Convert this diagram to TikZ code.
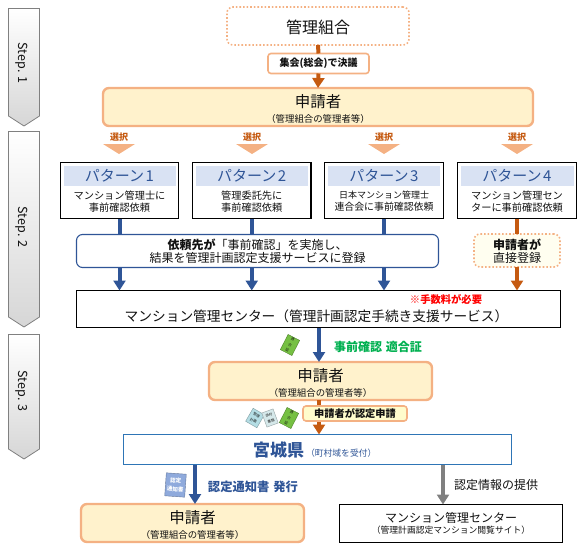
\documentclass[tikz,border=0pt]{standalone}
\usepackage{fontspec}
\setmainfont{Noto Sans CJK JP}
\usetikzlibrary{arrows.meta}
\definecolor{orange1}{HTML}{F4B183}
\definecolor{orangeD}{HTML}{C55A11}
\definecolor{cream}{HTML}{FFF2CC}
\definecolor{blueD}{HTML}{2F5597}
\definecolor{blueH}{HTML}{D9E2F3}
\definecolor{blueL}{HTML}{2E75B6}
\definecolor{txt}{HTML}{111111}
\definecolor{okgreen}{HTML}{00B050}
\definecolor{docgreen}{HTML}{76C043}
\definecolor{doccyan}{HTML}{B4DDE4}
\definecolor{doccyanL}{HTML}{D5E8EA}
\definecolor{docblue}{HTML}{8FAADC}
\newcommand{\fs}[1]{\fontsize{#1}{#1}\selectfont}
\tikzset{
  base/.style={inner sep=0pt,outer sep=0pt,align=center,text=txt},
  appbox/.style={base,draw=orange1,line width=2.4pt,fill=cream,rounded corners=6pt},
  patbox/.style={base,draw=black,line width=1.1pt,fill=white},
  pathead/.style={base,fill=blueH,text=blueD},
  blackbox/.style={base,draw=black,line width=1.1pt,fill=white},
  dotbox/.style={base,draw=orange1,line width=1.6pt,dotted,rounded corners=6pt},
  blue arrow/.style={draw=blueD,line width=4pt,-{Triangle[width=12pt,length=10pt]}},
  orange arrow/.style={draw=orangeD,line width=4pt,-{Triangle[width=12pt,length=10pt]}},
  gray arrow/.style={draw=gray,line width=4pt,-{Triangle[width=12pt,length=10pt]}},
  blue line/.style={draw=blueD,line width=4pt},
  orange line/.style={draw=orangeD,line width=4pt},
  stepban/.style={draw=gray,line width=0.8pt,top color=white,bottom color=black!16},
  steptext/.style={base,rotate=-90,font=\fs{12.5}},
  pick/.style={fill=orange1},
  picktext/.style={base,text=orangeD,font=\fs{9}\bfseries},
  doc/.style={base,draw=#1!70!black,line width=.4pt},
}
\begin{document}
\begin{tikzpicture}[x=1pt,y=-1pt]
\useasboundingbox (0,0) rectangle (584,554);
% step banners
\path[stepban] (8.5,8.5) -- (39.5,8.5) -- (39.5,116) -- (24,126) -- (8.5,116) -- cycle;
\path[stepban] (8.5,131.5) -- (39.5,131.5) -- (39.5,317) -- (24,327) -- (8.5,317) -- cycle;
\path[stepban] (8.5,334.5) -- (39.5,334.5) -- (39.5,449) -- (24,459) -- (8.5,449) -- cycle;
\node[steptext] (s1) at (22,63) {Step. 1};
\node[steptext] (s2) at (22,227) {Step. 2};
\node[steptext] (s3) at (22,391) {Step. 3};
% top
\node[dotbox,minimum width=182pt,minimum height=38pt] (kumiai) at (318,26) {};
\node[base,font=\fs{16}] (kumiait) at (318,27) {管理組合};
\node[appbox,minimum width=430pt,minimum height=38pt] (app1) at (318,107) {};
\node[base,font=\fs{15.5}] (app1a) at (318,102) {申請者};
\node[base,font=\fs{9.4}] (app1b) at (318,118.5) {（管理組合の管理者等）};
\node[base,draw=orange1,line width=1.6pt,fill=white,rounded corners=3pt,minimum width=101pt,minimum height=20pt,font=\fs{10}\bfseries] (shukai) at (318.5,63.5) {集会(総会)で決議};
\draw[orange line] (kumiai.south) -- (shukai.north);
\draw[orange arrow] (shukai.south) -- (app1.north);
% selection
\foreach \n/\x in {a/119,b/252,c/384,d/517}{
  \node[picktext] (sel\n) at (\x,137) {選択};
  \fill[pick] (\x-16,144) -- (\x+16,144) -- (\x,154) -- cycle;
}
% patterns
\node[patbox,minimum width=118pt,minimum height=56pt] (p1) at (119.5,190.5) {};
\node[patbox,minimum width=118.5pt,minimum height=56pt] (p2) at (251.75,190.5) {};
\node[patbox,minimum width=119pt,minimum height=56pt] (p3) at (384,190.5) {};
\node[patbox,minimum width=119pt,minimum height=56pt] (p4) at (517,190.5) {};
\node[pathead,minimum width=112pt,minimum height=20pt,font=\fs{15}] (h1) at (119.5,176) {パターン\hspace{1.5pt}1};
\node[pathead,minimum width=112pt,minimum height=20pt,font=\fs{15}] (h2) at (251.75,176) {パターン\hspace{1.5pt}2};
\node[pathead,minimum width=112pt,minimum height=20pt,font=\fs{15}] (h3) at (384,176) {パターン\hspace{1.5pt}3};
\node[pathead,minimum width=113pt,minimum height=20pt,font=\fs{15}] (h4) at (517,176) {パターン\hspace{1.5pt}4};
\node[base,font=\fs{10.2}] (t1) at (119.5,201.5) {マンション管理士に\\[2pt]事前確認依頼};
\node[base,font=\fs{10.2}] (t2) at (251.75,201.5) {管理委託先に\\[2pt]事前確認依頼};
\node[base,font=\fs{9.9}] (t3) at (384,201.5) {{\fs{9}日本マンション管理士}\\[2pt]連合会に事前確認依頼};
\node[base,font=\fs{10.2}] (t4) at (517,201.5) {マンション管理セン\\[2pt]ターに事前確認依頼};
% link box
\node[base,draw=blueD,line width=1.1pt,fill=white,rounded corners=6pt,minimum width=362pt,minimum height=33pt] (link) at (257.5,251) {};
\node[base,font=\fs{12}] (linkt) at (257.5,251.5) {\textbf{依頼先が}「事前確認」を実施し、\\[1pt]結果を管理計画認定支援サービスに登録};
\node[dotbox,fill=yellow!6,minimum width=86pt,minimum height=33pt] (direct) at (517,250.5) {};
\node[base,font=\fs{12}] (directt) at (517,251) {\textbf{申請者が}\\[1pt]直接登録};
% center
\node[blackbox,minimum width=484pt,minimum height=37pt] (center) at (318.5,309) {};
\node[base,font=\fs{13.7}] (centert) at (316.5,316) {マンション管理センター（管理計画認定手続き支援サービス）};
\node[base,text=red,font=\fs{10.3}\bfseries] (fee) at (446,299) {※手数料が必要};
\foreach \p in {p1,p2,p3}{
  \draw[blue line] (\p.south) -- (link.north -| \p.south);
  \draw[blue arrow] (link.south -| \p.south) -- (center.north -| \p.south);
}
\draw[orange line] (p4.south) -- (direct.north);
\draw[orange arrow] (direct.south) -- (center.north -| direct.south);
% applicant 2
\coordinate (xa) at (319,0);
\node[appbox,minimum width=223pt,minimum height=38pt] (app2) at (320.5,381) {};
\node[base,font=\fs{15.5}] (app2a) at (320.5,376) {申請者};
\node[base,font=\fs{9.4}] (app2b) at (320.5,392.5) {（管理組合の管理者等）};
\draw[blue arrow] (center.south -| xa) -- (app2.north -| xa);
\node[base,text=okgreen,font=\fs{12}\bfseries] (okt) at (378,347) {事前確認\hspace{4pt}適合証};
% prefecture
\node[base,draw=blueL,line width=1.1pt,fill=white,minimum width=388pt,minimum height=30pt] (pref) at (317.5,449.5) {};
\node[base,anchor=west,text=blueD,font=\fs{17}\bfseries] (preft) at (253,449.5) {宮城県};
\node[base,anchor=west,text=blueD,font=\fs{8.8}] (prefs) at (306,453) {（町村域を受付）};
\draw[orange arrow] (app2.south -| xa) -- (pref.north -| xa);
\node[base,draw=orange1,line width=1.6pt,fill=yellow!20,rounded corners=3pt,minimum width=104pt,minimum height=15pt,font=\fs{10.2}\bfseries] (apply) at (355,413.5) {申請者が認定申請};
% bottom
\coordinate (xb) at (195,0);
\coordinate (xc) at (443,0);
\node[appbox,minimum width=223pt,minimum height=38pt] (app3) at (192.5,523) {};
\node[base,font=\fs{15.5}] (app3a) at (192.5,518) {申請者};
\node[base,font=\fs{9.4}] (app3b) at (192.5,534.5) {（管理組合の管理者等）};
\node[blackbox,minimum width=223pt,minimum height=38pt] (site) at (451,523.5) {};
\node[base,font=\fs{12}] (sitea) at (451,518) {マンション管理センター};
\node[base,font=\fs{8.8}] (siteb) at (451,530.5) {（管理計画認定マンション閲覧サイト）};
\draw[blue arrow] (pref.south -| xb) -- (app3.north -| xb);
\draw[gray arrow] (pref.south -| xc) -- (site.north -| xc);
\node[base,text=blueD,font=\fs{12.3}\bfseries] (notice) at (253,487) {認定通知書\hspace{4pt}発行};
\node[base,font=\fs{12}] (provide) at (496,485) {認定情報の提供};
% documents
\node[doc=docgreen,fill=docgreen,minimum width=13pt,minimum height=17pt,rotate=-27] (d1) at (290,345) {\fs{3.5}\shortstack{適\\合\\証}};
\node[doc=doccyan,fill=doccyan,minimum width=13pt,minimum height=15pt,rotate=-30] (d3) at (255,418) {\fs{3.5}\shortstack{管理\\計画}};
\node[doc=doccyanL,fill=doccyanL,minimum width=12pt,minimum height=15pt,rotate=20] (d4) at (270,418) {\fs{3.5}\shortstack{添付\\書類}};
\node[doc=docgreen,fill=docgreen,minimum width=13pt,minimum height=17pt,rotate=-27] (d2) at (289,418) {\fs{3.5}\shortstack{適\\合\\証}};
\node[doc=docblue,fill=docblue,minimum width=20pt,minimum height=23pt,text=white,rotate=-4] (d5) at (175.5,485) {\fs{5.5}\bfseries\shortstack{認定\\通知書}};
\end{tikzpicture}
\end{document}
